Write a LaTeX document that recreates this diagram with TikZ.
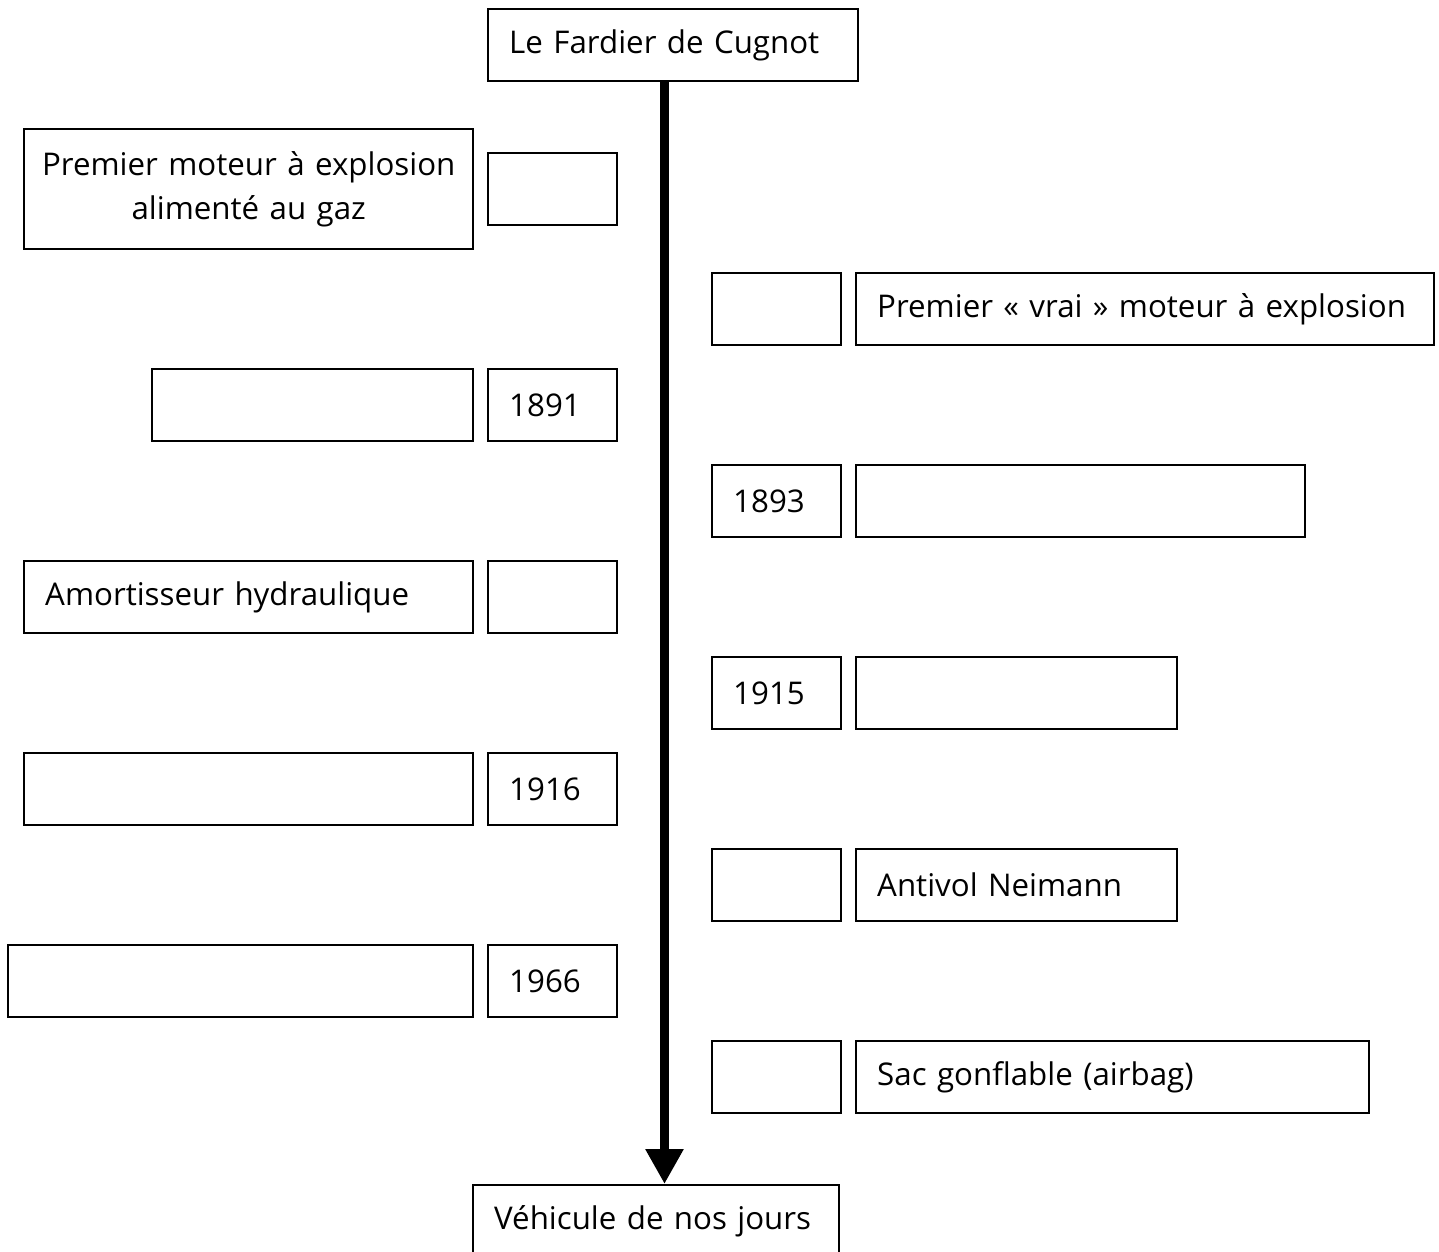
\documentclass[tikz,border=0pt]{standalone}
\usepackage{fontspec}
\setmainfont{Open Sans}
\usepackage{tikz}
\usetikzlibrary{arrows.meta,positioning,calc}

\tikzset{
  cell/.style={draw, line width=0.7pt, anchor=north west, minimum height=7.2mm,
    inner xsep=2.1mm, inner ysep=0pt, align=left, text width=#1,
    font=\fontsize{8.9}{10}\selectfont},
  timeline/.style={line width=0.9mm, -{Triangle[width=3.6mm,length=3.5mm]}}
}

\begin{document}
\begin{tikzpicture}
\useasboundingbox (0,0) rectangle (14.39,-12.52);

% Start and end of the timeline
\node[cell=32.8mm] (fardier) at (4.87,-0.08) {Le Fardier de Cugnot};
\node[cell=32.4mm] (vehicule) at (4.72,-11.84) {Véhicule de nos jours};
\coordinate (axe) at (6.645,0);
\draw[timeline] (fardier.south -| axe) -- (vehicule.north -| axe);

% Left column: inventions
\node[cell=44.9mm, inner xsep=0pt, align=center, minimum height=12mm,
  font=\fontsize{8.9}{12.5}\selectfont] (gaz) at (0.23,-1.28)
  {\mbox{Premier moteur à explosion}\\\mbox{alimenté au gaz}};
\node[cell=27.9mm] (g2) at (1.51,-3.68) {};
\node[cell=40.7mm] (amort) at (0.23,-5.60) {Amortisseur hydraulique};
\node[cell=40.7mm] (g4) at (0.23,-7.52) {};
\node[cell=42.3mm] (g5) at (0.07,-9.44) {};

% Left column: dates
\node[cell=8.7mm] (d1) at (4.87,-1.52) {};
\node[cell=8.7mm] (d2) at (4.87,-3.68) {1891};
\node[cell=8.7mm] (d3) at (4.87,-5.60) {};
\node[cell=8.7mm] (d4) at (4.87,-7.52) {1916};
\node[cell=8.7mm] (d5) at (4.87,-9.44) {1966};

% Right column: dates
\node[cell=8.7mm] (r1) at (7.11,-2.72) {};
\node[cell=8.7mm] (r2) at (7.11,-4.64) {1893};
\node[cell=8.7mm] (r3) at (7.11,-6.56) {1915};
\node[cell=8.7mm] (r4) at (7.11,-8.48) {};
\node[cell=8.7mm] (r5) at (7.11,-10.40) {};

% Right column: inventions
\node[cell=53.6mm] (vrai) at (8.55,-2.72) {Premier « vrai » moteur à explosion};
\node[cell=40.7mm] (e2) at (8.55,-4.64) {};
\node[cell=27.9mm] (e3) at (8.55,-6.56) {};
\node[cell=27.9mm] (antivol) at (8.55,-8.48) {Antivol Neimann};
\node[cell=47.1mm] (airbag) at (8.55,-10.40) {Sac gonflable (airbag)};
\end{tikzpicture}
\end{document}
